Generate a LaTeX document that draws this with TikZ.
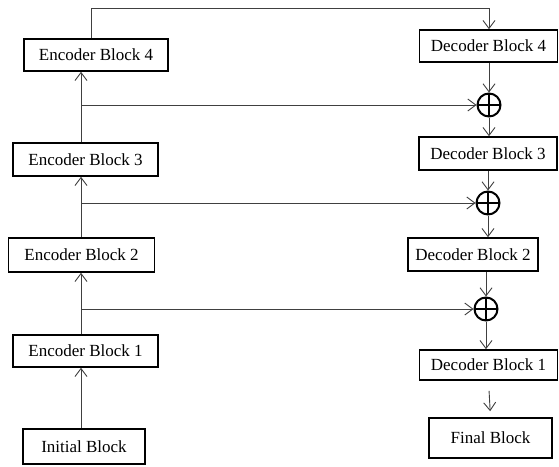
\documentclass[tikz,border=0pt]{standalone}
\usepackage{fontspec}
\setmainfont{Liberation Serif}
\usetikzlibrary{arrows.meta}

\tikzset{
    block/.style={draw=black, line width=1.6pt, inner sep=0pt, font=\fontsize{17}{20}\selectfont},
    sumnode/.style={circle, draw=black, line width=2pt, minimum size=23pt, inner sep=0pt,
        path picture={\draw[line width=2pt] (path picture bounding box.north) -- (path picture bounding box.south)
            (path picture bounding box.west) -- (path picture bounding box.east);}},
    arr/.style={draw=black!75, line width=0.9pt, -{Straight Barb[length=8pt,width=12pt]}},
    ln/.style={draw=black!75, line width=0.9pt}
}

\begin{document}
\begin{tikzpicture}[x=1pt, y=-1pt]

        \useasboundingbox (0,0) rectangle (559,466);

        \node[block, minimum width=144pt, minimum height=32pt] (E4) at (96, 55) {Encoder Block 4};
        \node[block, minimum width=145pt, minimum height=33pt] (E3) at (85.5, 159.5) {Encoder Block 3};
        \node[block, minimum width=146pt, minimum height=34pt] (E2) at (81.5, 255) {Encoder Block 2};
        \node[block, minimum width=145pt, minimum height=32pt] (E1) at (85.5, 351) {Encoder Block 1};
        \node[block, minimum width=122pt, minimum height=35pt] (init) at (84, 446.5) {Initial Block};

        \node[block, minimum width=138pt, minimum height=32pt] (D4) at (488.5, 46) {Decoder Block 4};
        \node[block, minimum width=138pt, minimum height=33pt] (D3) at (488, 153.5) {Decoder Block 3};
        \node[block, minimum width=130pt, minimum height=33pt] (D2) at (473, 254.5) {Decoder Block 2};
        \node[block, minimum width=138pt, minimum height=30pt] (D1) at (488.5, 365) {Decoder Block 1};
        \node[block, minimum width=123pt, minimum height=40pt] (fin) at (490.5, 438) {Final Block};

        \node[sumnode] (S3) at (489, 105) {};
        \node[sumnode] (S2) at (488, 203) {};
        \node[sumnode] (S1) at (486, 309) {};

        \coordinate (ecol) at (81, 0);
        \coordinate (t1) at (91, 8);
        \coordinate (t2) at (489, 8);

        \draw[arr] (init.north -| ecol) -- (E1.south -| ecol);
        \draw[arr] (E1.north -| ecol) -- (E2.south -| ecol);
        \draw[arr] (E2.north -| ecol) -- (E3.south -| ecol);
        \draw[arr] (E3.north -| ecol) -- (E4.south -| ecol);

        \draw[arr] (ecol |- S1) -- (S1.west);
        \draw[arr] (ecol |- S2) -- (S2.west);
        \draw[arr] (ecol |- S3) -- (S3.west);

        \draw[arr] (E4.north -| t1) -- (t1) -- (t2) -- (D4.north -| t2);

        \draw[arr] (D4.south -| S3) -- (S3.north);
        \draw[arr] (S3.south) -- (D3.north -| S3);
        \draw[arr] (D3.south -| S2) -- (S2.north);
        \draw[arr] (S2.south) -- (D2.north -| S2);
        \draw[arr] (D2.south -| S1) -- (S1.north);
        \draw[arr] (S1.south) -- (D1.north -| S1);
        \draw[arr, shorten <=10pt, shorten >=6pt] (D1.south) -- (fin.north);

    \end{tikzpicture}
\end{document}
